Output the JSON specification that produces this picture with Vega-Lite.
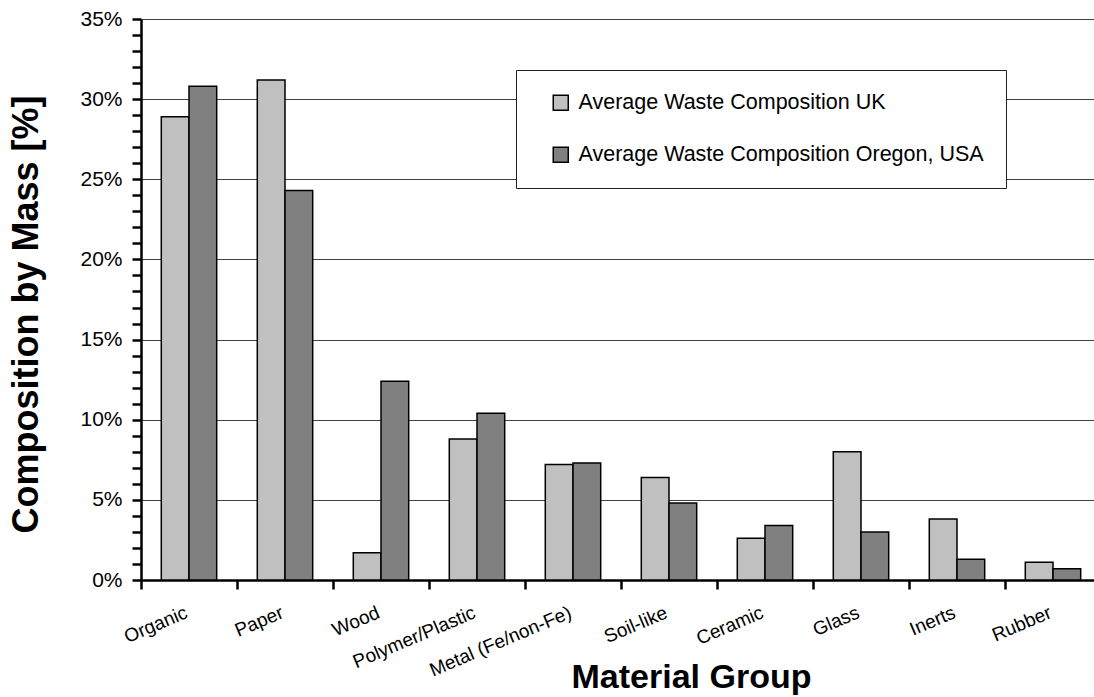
{
  "$schema": "https://vega.github.io/schema/vega-lite/v6.json",
  "autosize": "none",
  "width": 960,
  "height": 561,
  "padding": {"left": 141, "top": 19, "right": 0, "bottom": 117},
  "background": "white",
  "config": {"font": "Liberation Sans", "view": {"stroke": null}},
  "data": {"values": [
    {"group": "Organic", "series": "Average Waste Composition UK", "value": 28.9},
    {"group": "Organic", "series": "Average Waste Composition Oregon, USA", "value": 30.8},
    {"group": "Paper", "series": "Average Waste Composition UK", "value": 31.2},
    {"group": "Paper", "series": "Average Waste Composition Oregon, USA", "value": 24.3},
    {"group": "Wood", "series": "Average Waste Composition UK", "value": 1.7},
    {"group": "Wood", "series": "Average Waste Composition Oregon, USA", "value": 12.4},
    {"group": "Polymer/Plastic", "series": "Average Waste Composition UK", "value": 8.8},
    {"group": "Polymer/Plastic", "series": "Average Waste Composition Oregon, USA", "value": 10.4},
    {"group": "Metal (Fe/non-Fe)", "series": "Average Waste Composition UK", "value": 7.2},
    {"group": "Metal (Fe/non-Fe)", "series": "Average Waste Composition Oregon, USA", "value": 7.3},
    {"group": "Soil-like", "series": "Average Waste Composition UK", "value": 6.4},
    {"group": "Soil-like", "series": "Average Waste Composition Oregon, USA", "value": 4.8},
    {"group": "Ceramic", "series": "Average Waste Composition UK", "value": 2.6},
    {"group": "Ceramic", "series": "Average Waste Composition Oregon, USA", "value": 3.4},
    {"group": "Glass", "series": "Average Waste Composition UK", "value": 8.0},
    {"group": "Glass", "series": "Average Waste Composition Oregon, USA", "value": 3.0},
    {"group": "Inerts", "series": "Average Waste Composition UK", "value": 3.8},
    {"group": "Inerts", "series": "Average Waste Composition Oregon, USA", "value": 1.3},
    {"group": "Rubber", "series": "Average Waste Composition UK", "value": 1.1},
    {"group": "Rubber", "series": "Average Waste Composition Oregon, USA", "value": 0.7}
  ]},
  "encoding": {
    "x": {
      "field": "group", "type": "nominal", "sort": null,
      "scale": {"paddingInner": 0, "paddingOuter": 0},
      "axis": {
        "title": "Material Group",
        "titleFontSize": 34, "titleFontWeight": "bold", "titleColor": "black",
        "titleX": 550, "titleY": 107, "titleAlign": "center", "titleBaseline": "alphabetic",
        "bandPosition": 0,
        "labelAngle": -23, "labelAlign": "right", "labelBaseline": "top",
        "labelOffset": -6, "labelPadding": 14,
        "labelFontSize": 19, "labelColor": "black",
        "tickSize": 9, "tickWidth": 2.5, "tickColor": "black",
        "domainColor": "black", "domainWidth": 2.5,
        "grid": false
      }
    },
    "xOffset": {
      "field": "series", "type": "nominal", "sort": null,
      "scale": {"paddingInner": 0, "paddingOuter": 0.733}
    },
    "fill": {
      "field": "series", "type": "nominal", "sort": null,
      "scale": {"range": ["#C0C0C0", "#808080"]},
      "legend": {
        "title": null, "orient": "none", "legendX": 375, "legendY": 51,
        "fillColor": "white", "strokeColor": "#222222",
        "padding": 22, "symbolOffset": 12,
        "symbolType": "square", "symbolSize": 225, "symbolStrokeColor": "black",
        "labelFontSize": 21.5, "labelColor": "black", "labelLimit": 600, "labelOffset": 7,
        "labelExpr": "datum.label + '\u00a0\u00a0'",
        "rowPadding": 29
      }
    }
  },
  "layer": [
    {
      "mark": {"type": "bar", "stroke": "black", "strokeWidth": 1.5},
      "encoding": {
        "y": {
          "field": "value", "type": "quantitative",
          "scale": {"domain": [0, 35], "nice": false},
          "axis": {
            "orient": "left",
            "title": "Composition by Mass [%]",
            "titleFontSize": 36, "titleFontWeight": "bold", "titleColor": "black",
            "titleX": -104, "titleY": 295, "titleAlign": "center", "titleBaseline": "alphabetic", "titleAngle": -90,
            "values": [0, 5, 10, 15, 20, 25, 30, 35],
            "labelExpr": "datum.value + '%'",
            "labelFontSize": 21, "labelColor": "black", "labelPadding": 10,
            "tickSize": 9, "tickWidth": 2.5, "tickColor": "black",
            "domainColor": "black", "domainWidth": 2.5,
            "grid": true, "gridColor": "#404040"
          }
        }
      }
    },
    {
      "mark": {"type": "bar", "opacity": 0},
      "encoding": {
        "y": {
          "field": "value", "type": "quantitative",
          "scale": {"domain": [0, 35], "nice": false},
          "axis": {
            "orient": "left",
            "title": null,
            "values": [1,2,3,4,6,7,8,9,11,12,13,14,16,17,18,19,21,22,23,24,26,27,28,29,31,32,33,34],
            "labels": false, "domain": false, "grid": false,
            "tickSize": 9, "tickWidth": 2.5, "tickColor": "black"
          }
        }
      }
    }
  ],
  "resolve": {"axis": {"y": "independent"}}
}
